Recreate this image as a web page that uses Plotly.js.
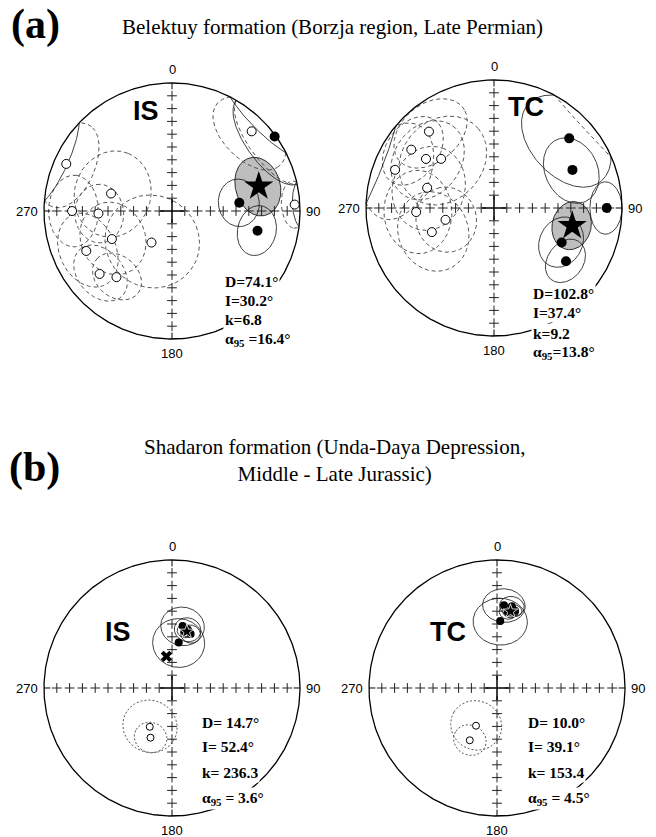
<!DOCTYPE html>
<html><head><meta charset="utf-8">
<script src="https://cdn.plot.ly/plotly-3.0.1.min.js"></script>
<style>html,body{margin:0;padding:0;background:#fff}#chart{width:656px;height:837px}</style>
</head><body><div id="chart"></div>
<script>
// ---------------- DATA (declination, inclination [negative = upper hemisphere], alpha95) ----------------
// (a) Belektuy formation, in situ
const IS_A_DEC = [54, 83, 103, 294, 270, 268, 286, 245, 245, 229, 220, 213, 45, 87];
const IS_A_INC = [1, 46, 32, -10.5, -23, -42, -49, -47, -27, -26, -33, -66, -13, -4.5];
const IS_A_A95 = [24, 14, 14, 22, 19, 17, 26, 22, 21, 17, 15, 30, 22, 11];
// (a) Belektuy formation, tilt corrected
const TC_A_DEC = [47.2, 64.1, 90, 117, 126.5, 319.6, 305.2, 305.8, 312.9, 291.1, 286.8, 267, 256.3, 248.8];
const TC_A_INC = [21, 32.4, 13, 40.4, 30.7, -22.7, -22, -34.8, -43, -18.3, -44.6, -39, -58, -46.8];
const TC_A_A95 = [28, 19, 13, 15, 13, 22, 20, 24, 28, 26, 25, 24, 20, 24];
// (b) Shadaron formation, in situ
const IS_B_DEC = [9.7, 15, 19, 12.5, 8.4, 209.8, 203.4];
const IS_B_INC = [49.3, 51, 53.2, 52.3, 60.6, -61.4, -55.2];
const IS_B_A95 = [13, 8, 6, 4.5, 16, 17, 10];
const IS_B_X_DEC = [350];
const IS_B_X_INC = [69.6];
// (b) Shadaron formation, tilt corrected
const TC_B_DEC = [4.8, 10.3, 8.2, 13.1, 2.8, 209.1, 207.5];
const TC_B_INC = [35.3, 35.3, 39.8, 38, 46.5, -62.4, -52];
const TC_B_A95 = [12, 7, 5, 4, 16, 16, 10];
// formation means (IS-a, TC-a, IS-b, TC-b)
const MEAN_D = [74.1, 102.8, 14.7, 10.0];
const MEAN_I = [30.2, 37.4, 52.4, 39.1];
const MEAN_K = [6.8, 9.2, 236.3, 153.4];
const MEAN_A95 = [16.4, 13.8, 3.6, 4.5];
const PANEL_LABELS = ['IS', 'TC', 'IS', 'TC'];
const DIR_LABELS = ['0', '90', '180', '270'];
const TITLE_A = 'Belektuy formation (Borzja region, Late Permian)';
const TITLE_B = 'Shadaron formation (Unda-Daya Depression,<br>Middle - Late Jurassic)';

// ---------------- geometry helpers (equal-area projection) ----------------
const W = 656, H = 837, S = 128;
const DEG = Math.PI / 180;
function proj(d, i) {
  const p = (90 - Math.abs(i)) * DEG;
  const r = Math.SQRT2 * Math.sin(p / 2);
  return [r * Math.sin(d * DEG), r * Math.cos(d * DEG)];
}
function circlePts(d, i, a) {
  const D = d * DEG, I = i * DEG, A = a * DEG;
  const c = [Math.cos(I) * Math.cos(D), Math.cos(I) * Math.sin(D), Math.sin(I)];
  const u = [-Math.sin(D), Math.cos(D), 0];
  const v = [c[1]*u[2]-c[2]*u[1], c[2]*u[0]-c[0]*u[2], c[0]*u[1]-c[1]*u[0]];
  const pts = [];
  const N = 240;
  for (let k = 0; k <= N; k++) {
    const t = k / N * 2 * Math.PI;
    const q = [0,1,2].map(j => Math.cos(A)*c[j] + Math.sin(A)*(Math.cos(t)*u[j] + Math.sin(t)*v[j]));
    const inc = Math.asin(Math.max(-1, Math.min(1, q[2]))) / DEG;
    const dec = Math.atan2(q[1], q[0]) / DEG;
    const xy = proj(dec, inc);
    pts.push({x: xy[0], y: xy[1], lower: inc >= 0});
  }
  return pts;
}
function addSegments(pts, solid, dashed) {
  function flush(seg, lower) {
    const tg = lower ? solid : dashed;
    seg.forEach(s => { tg.x.push(s.x); tg.y.push(s.y); });
    tg.x.push(null); tg.y.push(null);
  }
  let cur = [pts[0]], lo = pts[0].lower;
  for (let k = 1; k < pts.length; k++) {
    const p = pts[k];
    if (p.lower === lo) cur.push(p);
    else { cur.push(p); flush(cur, lo); cur = [pts[k-1], p]; lo = p.lower; }
  }
  flush(cur, lo);
}

const panels = [
  {cx: 172, cy: 211, dec: IS_A_DEC, inc: IS_A_INC, a95: IS_A_A95, big: true,
   stats: {x: 0.40, y: [-0.55, -0.70, -0.85, -1.0], sep: '=', asep: ' ='}, lab: [-0.20, 0.78]},
  {cx: 494, cy: 208, dec: TC_A_DEC, inc: TC_A_INC, a95: TC_A_A95, big: true,
   stats: {x: 0.29, y: [-0.67, -0.82, -0.98, -1.13], sep: '=', asep: '='}, lab: [0.25, 0.79]},
  {cx: 172, cy: 688, dec: IS_B_DEC, inc: IS_B_INC, a95: IS_B_A95, big: false, xdec: IS_B_X_DEC, xinc: IS_B_X_INC,
   stats: {x: 0.22, y: [-0.27, -0.46, -0.66, -0.86], sep: '= ', asep: ' = '}, lab: [-0.42, 0.44]},
  {cx: 497, cy: 688, dec: TC_B_DEC, inc: TC_B_INC, a95: TC_B_A95, big: false,
   stats: {x: 0.23, y: [-0.27, -0.46, -0.66, -0.86], sep: '= ', asep: ' = '}, lab: [-0.38, 0.44]}
];

const traces = [];
const layout = {
  width: W, height: H, margin: {l: 0, r: 0, t: 0, b: 0},
  paper_bgcolor: '#fff', plot_bgcolor: 'rgba(0,0,0,0)', showlegend: false,
  annotations: [],
  font: {family: 'Liberation Sans, Arial, sans-serif', color: '#000'}
};
const XR = [-1.2, 1.2], YR = [-1.15, 1.15];
const serif = 'Liberation Serif, Times New Roman, serif';

panels.forEach((P, n) => {
  const ax = n === 0 ? '' : String(n + 1);
  const xa = 'x' + ax, ya = 'y' + ax;
  layout['xaxis' + ax] = {domain: [(P.cx + XR[0]*S)/W, (P.cx + XR[1]*S)/W], range: XR, visible: false, fixedrange: true, anchor: ya};
  layout['yaxis' + ax] = {domain: [1 - (P.cy - YR[0]*S)/H, 1 - (P.cy - YR[1]*S)/H], range: YR, visible: false, fixedrange: true, anchor: xa};
  const base = {xaxis: xa, yaxis: ya, hoverinfo: 'skip', cliponaxis: false};

  // mean confidence circle (shaded)
  const mp = circlePts(MEAN_D[n], MEAN_I[n], MEAN_A95[n]);
  traces.push(Object.assign({}, base, {type: 'scatter', mode: 'lines', x: mp.map(p => p.x), y: mp.map(p => p.y),
    fill: 'toself', fillcolor: P.big ? 'rgb(190,190,190)' : 'rgb(210,210,210)', line: {color: '#000', width: 0.8}}));

  // site confidence circles
  const solid = {x: [], y: []}, dashed = {x: [], y: []};
  P.dec.forEach((d, k) => addSegments(circlePts(d, P.inc[k], P.a95[k]), solid, dashed));
  traces.push(Object.assign({}, base, {type: 'scatter', mode: 'lines', x: dashed.x, y: dashed.y, connectgaps: false,
    line: {color: '#444', width: 0.9, dash: P.big ? '4px,3px' : '2px,2px'}}));
  traces.push(Object.assign({}, base, {type: 'scatter', mode: 'lines', x: solid.x, y: solid.y, connectgaps: false,
    line: {color: '#111', width: 0.8}}));

  // primitive circle
  const px = [], py = [];
  for (let k = 0; k <= 360; k++) { px.push(Math.sin(k*DEG)); py.push(Math.cos(k*DEG)); }
  traces.push(Object.assign({}, base, {type: 'scatter', mode: 'lines', x: px, y: py, line: {color: '#000', width: 1.3}}));

  // tick crosses along N-S and E-W axes, and short edge ticks
  const tx = [], ty = [];
  for (let k = 1; k <= 9; k++) { const r = k / 10; tx.push(r, -r, 0, 0); ty.push(0, 0, r, -r); }
  traces.push(Object.assign({}, base, {type: 'scatter', mode: 'markers', x: tx, y: ty,
    marker: {symbol: 'cross-thin', size: 7, line: {color: '#222', width: 1}}}));
  traces.push(Object.assign({}, base, {type: 'scatter', mode: 'markers', x: [0], y: [0],
    marker: {symbol: 'cross-thin', size: 17, line: {color: '#000', width: 1.5}}}));
  traces.push(Object.assign({}, base, {type: 'scatter', mode: 'lines',
    x: [0, 0, null, 0, 0, null, 0.95, 1, null, -0.95, -1], y: [0.95, 1, null, -0.95, -1, null, 0, 0, null, 0, 0],
    line: {color: '#000', width: 1}}));

  // site directions
  const lo = {x: [], y: []}, up = {x: [], y: []};
  P.dec.forEach((d, k) => { const xy = proj(d, P.inc[k]); const t = P.inc[k] >= 0 ? lo : up; t.x.push(xy[0]); t.y.push(xy[1]); });
  traces.push(Object.assign({}, base, {type: 'scatter', mode: 'markers', x: up.x, y: up.y,
    marker: {symbol: 'circle', size: P.big ? 9 : 7, color: '#fff', line: {color: '#000', width: 1}}}));
  traces.push(Object.assign({}, base, {type: 'scatter', mode: 'markers', x: lo.x, y: lo.y,
    marker: {symbol: 'circle', size: P.big ? 10 : 8, color: '#000', line: {color: '#000', width: 0}}}));
  if (P.xdec) {
    const xx = P.xdec.map((d, k) => proj(d, P.xinc[k]));
    traces.push(Object.assign({}, base, {type: 'scatter', mode: 'markers', x: xx.map(p => p[0]), y: xx.map(p => p[1]),
      marker: {symbol: 'x', size: 10, color: '#000', line: {color: '#fff', width: 0}}}));
  }
  // mean direction
  const m = proj(MEAN_D[n], MEAN_I[n]);
  traces.push(Object.assign({}, base, {type: 'scatter', mode: 'markers', x: [m[0]], y: [m[1]],
    marker: {symbol: 'star', size: P.big ? 22 : 11, color: '#000', line: {color: '#fff', width: P.big ? 0 : 0.8}}}));

  // annotations
  const A = layout.annotations;
  const fs = 13;
  A.push({xref: xa, yref: ya, x: 0, y: 1.03, text: DIR_LABELS[0], showarrow: false, xanchor: 'center', yanchor: 'bottom', font: {size: fs}});
  A.push({xref: xa, yref: ya, x: 1.03, y: 0, text: DIR_LABELS[1], showarrow: false, xanchor: 'left', yanchor: 'middle', font: {size: fs}});
  A.push({xref: xa, yref: ya, x: 0, y: -1.04, text: DIR_LABELS[2], showarrow: false, xanchor: 'center', yanchor: 'top', font: {size: fs}});
  A.push({xref: xa, yref: ya, x: -1.03, y: 0, text: DIR_LABELS[3], showarrow: false, xanchor: 'right', yanchor: 'middle', font: {size: fs}});
  A.push({xref: xa, yref: ya, x: P.lab[0], y: P.lab[1], text: '<b>' + PANEL_LABELS[n] + '</b>', showarrow: false,
    xanchor: 'center', yanchor: 'middle', font: {size: 27, family: 'Liberation Sans, Arial, sans-serif'}});
  const st = P.stats;
  const lines = ['D' + st.sep + MEAN_D[n].toFixed(1) + '°', 'I' + st.sep + MEAN_I[n].toFixed(1) + '°',
    'k' + st.sep + MEAN_K[n].toFixed(1), 'α<sub>95</sub>' + st.asep + MEAN_A95[n].toFixed(1) + '°'];
  lines.forEach((t, k) => A.push({xref: xa, yref: ya, x: st.x, y: st.y[k], text: '<b>' + t + '</b>', showarrow: false,
    xanchor: 'left', yanchor: 'middle', bgcolor: '#fff', borderpad: 1, font: {size: 15.5, family: serif}}));
});

layout.annotations.push({xref: 'paper', yref: 'paper', x: 9/W, y: 1 - 24/H, text: '<b>(a)</b>', showarrow: false,
  xanchor: 'left', yanchor: 'middle', font: {size: 42, family: serif}});
layout.annotations.push({xref: 'paper', yref: 'paper', x: 332/W, y: 1 - 27/H, text: TITLE_A, showarrow: false,
  xanchor: 'center', yanchor: 'middle', font: {size: 21, family: serif}});
layout.annotations.push({xref: 'paper', yref: 'paper', x: 7/W, y: 1 - 468/H, text: '<b>(b)</b>', showarrow: false,
  xanchor: 'left', yanchor: 'middle', font: {size: 42, family: serif}});
layout.annotations.push({xref: 'paper', yref: 'paper', x: 335/W, y: 1 - 460/H, text: TITLE_B, showarrow: false,
  xanchor: 'center', yanchor: 'middle', font: {size: 21, family: serif}});

Plotly.newPlot('chart', traces, layout, {staticPlot: true, displayModeBar: false});
</script></body></html>
